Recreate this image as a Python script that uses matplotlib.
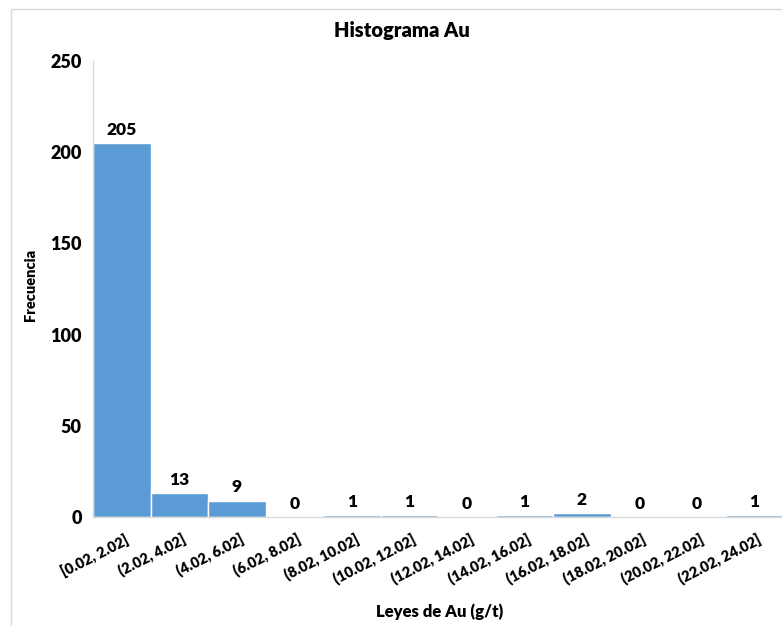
import matplotlib.pyplot as plt
import matplotlib.transforms as mtransforms
from matplotlib.patches import Rectangle

plt.rcParams['font.family'] = ['Lato', 'DejaVu Sans']
plt.rcParams['font.weight'] = 'heavy'

# Clases del histograma y frecuencias
clases = ['[0.02, 2.02]', '(2.02, 4.02]', '(4.02, 6.02]', '(6.02, 8.02]',
          '(8.02, 10.02]', '(10.02, 12.02]', '(12.02, 14.02]', '(14.02, 16.02]',
          '(16.02, 18.02]', '(18.02, 20.02]', '(20.02, 22.02]', '(22.02, 24.02]']
frecuencia = [205, 13, 9, 0, 1, 1, 0, 1, 2, 0, 0, 1]

W, H = 782, 626
fig = plt.figure(figsize=(W / 100, H / 100), dpi=100)

# marco del grafico
fig.patches.append(Rectangle((10.5 / W, -0.05), 1.2, (H - 9.5) / H + 0.05,
                             transform=fig.transFigure, fill=False,
                             edgecolor='#D9D9D9', linewidth=1))

ax = fig.add_axes([93 / W, (H - 517) / H, 690 / W, 456 / H])
x = range(len(clases))
ax.bar(x, frecuencia, width=1.0, color='#5B9BD5',
       edgecolor='white', linewidth=1)

for xi, v in zip(x, frecuencia):
    ax.text(xi, v + 3, str(v), ha='center', va='bottom',
            fontsize=12.5, fontweight='heavy')

ax.set_xlim(-0.5, len(clases) - 0.5)
ax.set_ylim(0, 250)
ax.set_yticks(range(0, 251, 50))
ax.tick_params(axis='y', length=0, pad=8, labelsize=13)
ax.tick_params(axis='x', length=0, pad=11)
ax.set_xticks(list(x))
ax.set_xticklabels(clases, rotation=27, ha='right', va='top',
                   rotation_mode='anchor', fontsize=10.5)
# desplazar etiquetas un poco a la derecha
desplazamiento = mtransforms.ScaledTranslation(0.03, 0, fig.dpi_scale_trans)
for lbl in ax.get_xticklabels():
    lbl.set_transform(lbl.get_transform() + desplazamiento)

for s in ['top', 'right']:
    ax.spines[s].set_visible(False)
for s in ['left', 'bottom']:
    ax.spines[s].set_color('#D9D9D9')
    ax.spines[s].set_linewidth(1)

fig.text(402 / W, 1 - 31 / H, 'Histograma Au', ha='center', va='center',
         fontsize=14.5, fontweight='heavy')
fig.text(31 / W, 1 - 285 / H, 'Frecuencia', ha='center', va='center',
         rotation=90, fontsize=10.5, fontweight='heavy')
fig.text(440 / W, 1 - 612 / H, 'Leyes de Au (g/t)', ha='center', va='center',
         fontsize=12, fontweight='heavy')

fig.savefig('out.png', dpi=100)
